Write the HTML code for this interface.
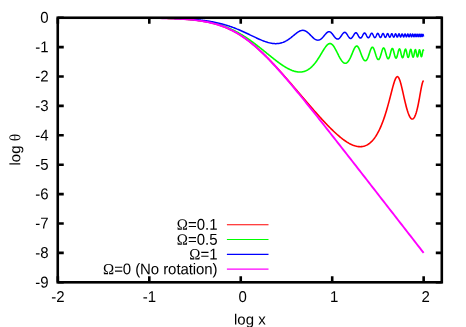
<!DOCTYPE html>
<html><head><meta charset="utf-8"><title>log theta vs log x</title>
<style>
html,body{margin:0;padding:0;background:#fff;}
body{width:466px;height:327px;overflow:hidden;}
svg{display:block;will-change:transform;}
svg text{font-family:"Liberation Sans",sans-serif;font-size:15px;fill:#000;}
svg .sy{font-family:"Liberation Serif",serif;}
</style></head><body>
<svg width="466" height="327" viewBox="0 0 466 327">
<rect x="0" y="0" width="466" height="327" fill="#fff"/>
<defs><clipPath id="pc"><rect x="57" y="17" width="386" height="266"/></clipPath></defs>
<g clip-path="url(#pc)">
<path d="M57.85 17.70L58.40 17.70L58.95 17.70L59.50 17.70L60.04 17.70L60.59 17.70L61.14 17.70L61.69 17.70L62.24 17.70L62.79 17.70L63.34 17.70L63.89 17.70L64.43 17.70L64.98 17.70L65.53 17.70L66.08 17.70L66.63 17.70L67.18 17.70L67.73 17.70L68.28 17.70L68.82 17.70L69.37 17.70L69.92 17.70L70.47 17.70L71.02 17.70L71.57 17.71L72.12 17.71L72.66 17.71L73.21 17.71L73.76 17.71L74.31 17.71L74.86 17.71L75.41 17.71L75.96 17.71L76.51 17.71L77.05 17.71L77.60 17.71L78.15 17.71L78.70 17.71L79.25 17.71L79.80 17.71L80.35 17.71L80.90 17.71L81.44 17.71L81.99 17.71L82.54 17.71L83.09 17.71L83.64 17.71L84.19 17.71L84.74 17.71L85.29 17.71L85.83 17.71L86.38 17.71L86.93 17.71L87.48 17.71L88.03 17.71L88.58 17.71L89.13 17.71L89.67 17.71L90.22 17.71L90.77 17.71L91.32 17.71L91.87 17.71L92.42 17.71L92.97 17.71L93.52 17.72L94.06 17.72L94.61 17.72L95.16 17.72L95.71 17.72L96.26 17.72L96.81 17.72L97.36 17.72L97.91 17.72L98.45 17.72L99.00 17.72L99.55 17.72L100.10 17.72L100.65 17.72L101.20 17.72L101.75 17.72L102.29 17.72L102.84 17.72L103.39 17.73L103.94 17.73L104.49 17.73L105.04 17.73L105.59 17.73L106.14 17.73L106.68 17.73L107.23 17.73L107.78 17.73L108.33 17.73L108.88 17.73L109.43 17.73L109.98 17.74L110.53 17.74L111.07 17.74L111.62 17.74L112.17 17.74L112.72 17.74L113.27 17.74L113.82 17.74L114.37 17.74L114.91 17.75L115.46 17.75L116.01 17.75L116.56 17.75L117.11 17.75L117.66 17.75L118.21 17.75L118.76 17.75L119.30 17.76L119.85 17.76L120.40 17.76L120.95 17.76L121.50 17.76L122.05 17.76L122.60 17.77L123.15 17.77L123.69 17.77L124.24 17.77L124.79 17.77L125.34 17.78L125.89 17.78L126.44 17.78L126.99 17.78L127.53 17.78L128.08 17.79L128.63 17.79L129.18 17.79L129.73 17.79L130.28 17.80L130.83 17.80L131.38 17.80L131.92 17.81L132.47 17.81L133.02 17.81L133.57 17.82L134.12 17.82L134.67 17.82L135.22 17.83L135.77 17.83L136.31 17.83L136.86 17.84L137.41 17.84L137.96 17.84L138.51 17.85L139.06 17.85L139.61 17.86L140.16 17.86L140.70 17.86L141.25 17.87L141.80 17.87L142.35 17.88L142.90 17.88L143.45 17.89L144.00 17.89L144.54 17.90L145.09 17.91L145.64 17.91L146.19 17.92L146.74 17.92L147.29 17.93L147.84 17.94L148.39 17.94L148.93 17.95L149.48 17.96L150.03 17.96L150.58 17.97L151.13 17.98L151.68 17.99L152.23 17.99L152.78 18.00L153.32 18.01L153.87 18.02L154.42 18.03L154.97 18.04L155.52 18.05L156.07 18.06L156.62 18.07L157.16 18.08L157.71 18.09L158.26 18.10L158.81 18.11L159.36 18.12L159.91 18.13L160.46 18.14L161.01 18.16L161.55 18.17L162.10 18.18L162.65 18.19L163.20 18.21L163.75 18.22L164.30 18.24L164.85 18.25L165.40 18.27L165.94 18.28L166.49 18.30L167.04 18.31L167.59 18.33L168.14 18.35L168.69 18.37L169.24 18.39L169.78 18.40L170.33 18.42L170.88 18.44L171.43 18.46L171.98 18.49L172.53 18.51L173.08 18.53L173.63 18.55L174.17 18.58L174.72 18.60L175.27 18.63L175.82 18.65L176.37 18.68L176.92 18.70L177.47 18.73L178.02 18.76L178.56 18.79L179.11 18.82L179.66 18.85L180.21 18.88L180.76 18.91L181.31 18.95L181.86 18.98L182.40 19.01L182.95 19.05L183.50 19.09L184.05 19.13L184.60 19.16L185.15 19.20L185.70 19.24L186.25 19.29L186.79 19.33L187.34 19.37L187.89 19.42L188.44 19.47L188.99 19.51L189.54 19.56L190.09 19.61L190.64 19.66L191.18 19.72L191.73 19.77L192.28 19.83L192.83 19.88L193.38 19.94L193.93 20.00L194.48 20.06L195.03 20.13L195.57 20.19L196.12 20.26L196.67 20.33L197.22 20.40L197.77 20.47L198.32 20.54L198.87 20.62L199.41 20.69L199.96 20.77L200.51 20.85L201.06 20.94L201.61 21.02L202.16 21.11L202.71 21.20L203.26 21.29L203.80 21.38L204.35 21.48L204.90 21.58L205.45 21.68L206.00 21.78L206.55 21.89L207.10 21.99L207.65 22.11L208.19 22.22L208.74 22.33L209.29 22.45L209.84 22.57L210.39 22.70L210.94 22.82L211.49 22.95L212.03 23.09L212.58 23.22L213.13 23.36L213.68 23.50L214.23 23.65L214.78 23.80L215.33 23.95L215.88 24.10L216.42 24.26L216.97 24.42L217.52 24.59L218.07 24.76L218.62 24.93L219.17 25.10L219.72 25.28L220.27 25.47L220.81 25.65L221.36 25.84L221.91 26.04L222.46 26.24L223.01 26.44L223.56 26.64L224.11 26.85L224.65 27.07L225.20 27.29L225.75 27.51L226.30 27.74L226.85 27.97L227.40 28.21L227.95 28.45L228.50 28.69L229.04 28.94L229.59 29.19L230.14 29.45L230.69 29.71L231.24 29.98L231.79 30.25L232.34 30.53L232.89 30.81L233.43 31.09L233.98 31.38L234.53 31.68L235.08 31.98L235.63 32.28L236.18 32.59L236.73 32.90L237.27 33.22L237.82 33.54L238.37 33.87L238.92 34.21L239.47 34.54L240.02 34.89L240.57 35.23L241.12 35.59L241.66 35.94L242.21 36.31L242.76 36.67L243.31 37.04L243.86 37.42L244.41 37.80L244.96 38.19L245.51 38.58L246.05 38.98L246.60 39.38L247.15 39.78L247.70 40.19L248.25 40.61L248.80 41.03L249.35 41.45L249.90 41.88L250.44 42.31L250.99 42.75L251.54 43.19L252.09 43.64L252.64 44.09L253.19 44.54L253.74 45.00L254.28 45.47L254.83 45.94L255.38 46.41L255.93 46.89L256.48 47.37L257.03 47.85L257.58 48.34L258.13 48.83L258.67 49.33L259.22 49.83L259.77 50.34L260.32 50.85L260.87 51.36L261.42 51.87L261.97 52.39L262.52 52.92L263.06 53.44L263.61 53.98L264.16 54.51L264.71 55.05L265.26 55.59L265.81 56.13L266.36 56.68L266.90 57.23L267.45 57.78L268.00 58.34L268.55 58.90L269.10 59.46L269.65 60.03L270.20 60.59L270.75 61.17L271.29 61.74L271.84 62.32L272.39 62.89L272.94 63.48L273.49 64.06L274.04 64.65L274.59 65.24L275.14 65.83L275.68 66.42L276.23 67.02L276.78 67.61L277.33 68.21L277.88 68.81L278.43 69.42L278.98 70.02L279.52 70.63L280.07 71.24L280.62 71.85L281.17 72.47L281.72 73.08L282.27 73.70L282.82 74.31L283.37 74.93L283.91 75.56L284.46 76.18L285.01 76.80L285.56 77.43L286.11 78.05L286.66 78.68L287.21 79.31L287.76 79.94L288.30 80.57L288.85 81.20L289.40 81.83L289.95 82.47L290.50 83.10L291.05 83.74L291.60 84.37L292.14 85.01L292.69 85.65L293.24 86.29L293.79 86.93L294.34 87.56L294.89 88.20L295.44 88.85L295.99 89.49L296.53 90.13L297.08 90.77L297.63 91.41L298.18 92.05L298.73 92.69L299.28 93.34L299.83 93.98L300.38 94.62L300.92 95.26L301.47 95.90L302.02 96.55L302.57 97.19L303.12 97.83L303.67 98.47L304.22 99.11L304.77 99.75L305.31 100.39L305.86 101.03L306.41 101.67L306.96 102.31L307.51 102.95L308.06 103.59L308.61 104.22L309.15 104.86L309.70 105.49L310.25 106.13L310.80 106.76L311.35 107.39L311.90 108.02L312.45 108.65L313.00 109.28L313.54 109.91L314.09 110.53L314.64 111.16L315.19 111.78L315.74 112.40L316.29 113.02L316.84 113.64L317.39 114.25L317.93 114.87L318.48 115.48L319.03 116.09L319.58 116.70L320.13 117.31L320.68 117.91L321.23 118.51L321.77 119.11L322.32 119.71L322.87 120.30L323.42 120.89L323.97 121.48L324.52 122.07L325.07 122.65L325.62 123.23L326.16 123.81L326.71 124.38L327.26 124.95L327.81 125.52L328.36 126.08L328.91 126.64L329.46 127.20L330.01 127.75L330.55 128.30L331.10 128.84L331.65 129.38L332.20 129.92L332.75 130.45L333.30 130.97L333.85 131.50L334.39 132.01L334.94 132.52L335.49 133.03L336.04 133.53L336.59 134.02L337.14 134.51L337.69 134.99L338.24 135.47L338.78 135.94L339.33 136.40L339.88 136.86L340.43 137.31L340.98 137.75L341.53 138.19L342.08 138.61L342.63 139.03L343.17 139.45L343.72 139.85L344.27 140.24L344.82 140.63L345.37 141.01L345.92 141.38L346.47 141.74L347.01 142.09L347.56 142.42L348.11 142.75L348.66 143.07L349.21 143.38L349.76 143.67L350.31 143.96L350.86 144.23L351.40 144.49L351.95 144.74L352.50 144.97L353.05 145.20L353.60 145.40L354.15 145.60L354.70 145.78L355.25 145.94L355.79 146.09L356.34 146.22L356.89 146.34L357.44 146.44L357.99 146.53L358.54 146.59L359.09 146.64L359.64 146.67L360.18 146.68L360.73 146.67L361.28 146.64L361.83 146.59L362.38 146.52L362.93 146.43L363.48 146.31L364.02 146.17L364.57 146.01L365.12 145.82L365.67 145.61L366.22 145.37L366.77 145.11L367.32 144.81L367.87 144.49L368.41 144.14L368.96 143.77L369.51 143.36L370.06 142.92L370.61 142.44L371.16 141.94L371.71 141.40L372.26 140.83L372.80 140.22L373.35 139.57L373.90 138.89L374.45 138.16L375.00 137.40L375.55 136.60L376.10 135.76L376.64 134.87L377.19 133.94L377.74 132.96L378.29 131.94L378.84 130.87L379.39 129.76L379.94 128.59L380.49 127.37L381.03 126.10L381.58 124.78L382.13 123.41L382.68 121.98L383.23 120.50L383.78 118.96L384.33 117.37L384.88 115.72L385.42 114.01L385.97 112.25L386.52 110.43L387.07 108.56L387.62 106.64L388.17 104.66L388.72 102.65L389.26 100.59L389.81 98.49L390.36 96.38L390.91 94.24L391.46 92.11L392.01 90.00L392.56 87.92L393.11 85.91L393.65 84.00L394.20 82.21L394.75 80.60L395.30 79.21L395.85 78.08L396.40 77.25L396.95 76.76L397.50 76.65L398.04 76.91L398.59 77.57L399.14 78.59L399.69 79.95L400.24 81.61L400.79 83.52L401.34 85.63L401.88 87.89L402.43 90.26L402.98 92.69L403.53 95.14L404.08 97.58L404.63 99.98L405.18 102.31L405.73 104.55L406.27 106.68L406.82 108.68L407.37 110.54L407.92 112.25L408.47 113.79L409.02 115.15L409.57 116.33L410.12 117.30L410.66 118.07L411.21 118.63L411.76 118.96L412.31 119.07L412.86 118.94L413.41 118.56L413.96 117.94L414.51 117.07L415.05 115.94L415.60 114.55L416.15 112.90L416.70 111.00L417.25 108.85L417.80 106.45L418.35 103.83L418.89 101.02L419.44 98.05L419.99 94.97L420.54 91.88L421.09 88.87L421.64 86.09L422.19 83.70L422.74 81.88L423.28 80.82L423.65 80.60" fill="none" stroke="#ff0000" stroke-width="1.6" stroke-linejoin="round" stroke-linecap="butt"/>
<path d="M57.85 17.70L58.40 17.70L58.95 17.70L59.50 17.70L60.04 17.70L60.59 17.70L61.14 17.70L61.69 17.70L62.24 17.70L62.79 17.70L63.34 17.70L63.89 17.70L64.43 17.70L64.98 17.70L65.53 17.70L66.08 17.70L66.63 17.70L67.18 17.70L67.73 17.70L68.28 17.70L68.82 17.70L69.37 17.70L69.92 17.70L70.47 17.70L71.02 17.70L71.57 17.70L72.12 17.70L72.66 17.71L73.21 17.71L73.76 17.71L74.31 17.71L74.86 17.71L75.41 17.71L75.96 17.71L76.51 17.71L77.05 17.71L77.60 17.71L78.15 17.71L78.70 17.71L79.25 17.71L79.80 17.71L80.35 17.71L80.90 17.71L81.44 17.71L81.99 17.71L82.54 17.71L83.09 17.71L83.64 17.71L84.19 17.71L84.74 17.71L85.29 17.71L85.83 17.71L86.38 17.71L86.93 17.71L87.48 17.71L88.03 17.71L88.58 17.71L89.13 17.71L89.67 17.71L90.22 17.71L90.77 17.71L91.32 17.71L91.87 17.71L92.42 17.71L92.97 17.71L93.52 17.71L94.06 17.71L94.61 17.72L95.16 17.72L95.71 17.72L96.26 17.72L96.81 17.72L97.36 17.72L97.91 17.72L98.45 17.72L99.00 17.72L99.55 17.72L100.10 17.72L100.65 17.72L101.20 17.72L101.75 17.72L102.29 17.72L102.84 17.72L103.39 17.72L103.94 17.72L104.49 17.73L105.04 17.73L105.59 17.73L106.14 17.73L106.68 17.73L107.23 17.73L107.78 17.73L108.33 17.73L108.88 17.73L109.43 17.73L109.98 17.73L110.53 17.73L111.07 17.73L111.62 17.74L112.17 17.74L112.72 17.74L113.27 17.74L113.82 17.74L114.37 17.74L114.91 17.74L115.46 17.74L116.01 17.74L116.56 17.75L117.11 17.75L117.66 17.75L118.21 17.75L118.76 17.75L119.30 17.75L119.85 17.75L120.40 17.76L120.95 17.76L121.50 17.76L122.05 17.76L122.60 17.76L123.15 17.76L123.69 17.77L124.24 17.77L124.79 17.77L125.34 17.77L125.89 17.77L126.44 17.78L126.99 17.78L127.53 17.78L128.08 17.78L128.63 17.78L129.18 17.79L129.73 17.79L130.28 17.79L130.83 17.79L131.38 17.80L131.92 17.80L132.47 17.80L133.02 17.81L133.57 17.81L134.12 17.81L134.67 17.81L135.22 17.82L135.77 17.82L136.31 17.82L136.86 17.83L137.41 17.83L137.96 17.83L138.51 17.84L139.06 17.84L139.61 17.85L140.16 17.85L140.70 17.85L141.25 17.86L141.80 17.86L142.35 17.87L142.90 17.87L143.45 17.88L144.00 17.88L144.54 17.89L145.09 17.89L145.64 17.90L146.19 17.90L146.74 17.91L147.29 17.92L147.84 17.92L148.39 17.93L148.93 17.93L149.48 17.94L150.03 17.95L150.58 17.95L151.13 17.96L151.68 17.97L152.23 17.98L152.78 17.98L153.32 17.99L153.87 18.00L154.42 18.01L154.97 18.02L155.52 18.03L156.07 18.03L156.62 18.04L157.16 18.05L157.71 18.06L158.26 18.07L158.81 18.08L159.36 18.09L159.91 18.10L160.46 18.12L161.01 18.13L161.55 18.14L162.10 18.15L162.65 18.16L163.20 18.18L163.75 18.19L164.30 18.20L164.85 18.22L165.40 18.23L165.94 18.25L166.49 18.26L167.04 18.28L167.59 18.29L168.14 18.31L168.69 18.33L169.24 18.34L169.78 18.36L170.33 18.38L170.88 18.40L171.43 18.42L171.98 18.44L172.53 18.46L173.08 18.48L173.63 18.50L174.17 18.52L174.72 18.55L175.27 18.57L175.82 18.59L176.37 18.62L176.92 18.64L177.47 18.67L178.02 18.70L178.56 18.72L179.11 18.75L179.66 18.78L180.21 18.81L180.76 18.84L181.31 18.87L181.86 18.90L182.40 18.94L182.95 18.97L183.50 19.00L184.05 19.04L184.60 19.08L185.15 19.11L185.70 19.15L186.25 19.19L186.79 19.23L187.34 19.27L187.89 19.32L188.44 19.36L188.99 19.40L189.54 19.45L190.09 19.50L190.64 19.55L191.18 19.60L191.73 19.65L192.28 19.70L192.83 19.75L193.38 19.81L193.93 19.86L194.48 19.92L195.03 19.98L195.57 20.04L196.12 20.10L196.67 20.17L197.22 20.23L197.77 20.30L198.32 20.37L198.87 20.44L199.41 20.51L199.96 20.59L200.51 20.66L201.06 20.74L201.61 20.82L202.16 20.90L202.71 20.99L203.26 21.07L203.80 21.16L204.35 21.25L204.90 21.34L205.45 21.44L206.00 21.53L206.55 21.63L207.10 21.73L207.65 21.84L208.19 21.94L208.74 22.05L209.29 22.16L209.84 22.28L210.39 22.39L210.94 22.51L211.49 22.64L212.03 22.76L212.58 22.89L213.13 23.02L213.68 23.15L214.23 23.29L214.78 23.42L215.33 23.57L215.88 23.71L216.42 23.86L216.97 24.01L217.52 24.17L218.07 24.32L218.62 24.49L219.17 24.65L219.72 24.82L220.27 24.99L220.81 25.16L221.36 25.34L221.91 25.52L222.46 25.71L223.01 25.90L223.56 26.09L224.11 26.29L224.65 26.49L225.20 26.69L225.75 26.90L226.30 27.11L226.85 27.33L227.40 27.55L227.95 27.77L228.50 28.00L229.04 28.23L229.59 28.47L230.14 28.71L230.69 28.95L231.24 29.20L231.79 29.45L232.34 29.71L232.89 29.97L233.43 30.24L233.98 30.51L234.53 30.78L235.08 31.06L235.63 31.34L236.18 31.63L236.73 31.92L237.27 32.21L237.82 32.51L238.37 32.81L238.92 33.12L239.47 33.43L240.02 33.75L240.57 34.07L241.12 34.39L241.66 34.72L242.21 35.05L242.76 35.39L243.31 35.73L243.86 36.07L244.41 36.42L244.96 36.77L245.51 37.13L246.05 37.49L246.60 37.85L247.15 38.22L247.70 38.59L248.25 38.97L248.80 39.35L249.35 39.73L249.90 40.11L250.44 40.50L250.99 40.89L251.54 41.29L252.09 41.69L252.64 42.09L253.19 42.50L253.74 42.90L254.28 43.31L254.83 43.73L255.38 44.14L255.93 44.56L256.48 44.99L257.03 45.41L257.58 45.83L258.13 46.26L258.67 46.69L259.22 47.13L259.77 47.56L260.32 48.00L260.87 48.43L261.42 48.87L261.97 49.31L262.52 49.75L263.06 50.20L263.61 50.64L264.16 51.08L264.71 51.53L265.26 51.97L265.81 52.42L266.36 52.87L266.90 53.31L267.45 53.76L268.00 54.20L268.55 54.65L269.10 55.10L269.65 55.54L270.20 55.98L270.75 56.43L271.29 56.87L271.84 57.31L272.39 57.74L272.94 58.18L273.49 58.61L274.04 59.05L274.59 59.48L275.14 59.90L275.68 60.33L276.23 60.75L276.78 61.16L277.33 61.58L277.88 61.99L278.43 62.40L278.98 62.80L279.52 63.20L280.07 63.59L280.62 63.98L281.17 64.36L281.72 64.74L282.27 65.11L282.82 65.47L283.37 65.83L283.91 66.19L284.46 66.53L285.01 66.87L285.56 67.20L286.11 67.53L286.66 67.84L287.21 68.15L287.76 68.45L288.30 68.74L288.85 69.02L289.40 69.29L289.95 69.55L290.50 69.79L291.05 70.03L291.60 70.26L292.14 70.48L292.69 70.68L293.24 70.87L293.79 71.05L294.34 71.21L294.89 71.36L295.44 71.50L295.99 71.62L296.53 71.73L297.08 71.82L297.63 71.90L298.18 71.96L298.73 72.00L299.28 72.02L299.83 72.03L300.38 72.02L300.92 71.99L301.47 71.94L302.02 71.87L302.57 71.78L303.12 71.67L303.67 71.53L304.22 71.38L304.77 71.20L305.31 71.00L305.86 70.78L306.41 70.53L306.96 70.25L307.51 69.95L308.06 69.63L308.61 69.28L309.15 68.90L309.70 68.49L310.25 68.06L310.80 67.60L311.35 67.11L311.90 66.60L312.45 66.05L313.00 65.48L313.54 64.87L314.09 64.24L314.64 63.58L315.19 62.90L315.74 62.18L316.29 61.44L316.84 60.67L317.39 59.87L317.93 59.06L318.48 58.22L319.03 57.36L319.58 56.48L320.13 55.58L320.68 54.68L321.23 53.77L321.77 52.85L322.32 51.94L322.87 51.03L323.42 50.14L323.97 49.26L324.52 48.42L325.07 47.61L325.62 46.85L326.16 46.14L326.71 45.50L327.26 44.93L327.81 44.45L328.36 44.06L328.91 43.78L329.46 43.60L330.01 43.55L330.55 43.61L331.10 43.80L331.65 44.12L332.20 44.55L332.75 45.10L333.30 45.76L333.85 46.51L334.39 47.36L334.94 48.29L335.49 49.27L336.04 50.31L336.59 51.39L337.14 52.49L337.69 53.59L338.24 54.69L338.78 55.77L339.33 56.81L339.88 57.82L340.43 58.77L340.98 59.65L341.53 60.45L342.08 61.17L342.63 61.80L343.17 62.33L343.72 62.74L344.27 63.04L344.82 63.22L345.37 63.28L345.92 63.20L346.47 62.99L347.01 62.65L347.56 62.17L348.11 61.56L348.66 60.81L349.21 59.94L349.76 58.96L350.31 57.86L350.86 56.67L351.40 55.40L351.95 54.08L352.50 52.74L353.05 51.40L353.60 50.12L354.15 48.93L354.70 47.89L355.25 47.03L355.79 46.41L356.34 46.07L356.89 46.02L357.44 46.29L357.99 46.86L358.54 47.71L359.09 48.80L359.64 50.08L360.18 51.49L360.73 52.97L361.28 54.45L361.83 55.88L362.38 57.20L362.93 58.38L363.48 59.35L364.02 60.10L364.57 60.60L365.12 60.82L365.67 60.75L366.22 60.39L366.77 59.73L367.32 58.79L367.87 57.60L368.41 56.19L368.96 54.62L369.51 52.96L370.06 51.31L370.61 49.79L371.16 48.52L371.71 47.62L372.26 47.20L372.80 47.30L373.35 47.95L373.90 49.07L374.45 50.56L375.00 52.27L375.55 54.05L376.10 55.76L376.64 57.26L377.19 58.45L377.74 59.23L378.29 59.56L378.84 59.40L379.39 58.74L379.94 57.62L380.49 56.10L381.03 54.29L381.58 52.36L382.13 50.53L382.68 49.02L383.23 48.10L383.78 47.93L384.33 48.56L384.88 49.90L385.42 51.73L385.97 53.76L386.52 55.70L387.07 57.30L387.62 58.36L388.17 58.76L388.72 58.44L389.26 57.40L389.81 55.76L390.36 53.71L390.91 51.56L391.46 49.72L392.01 48.59L392.56 48.49L393.11 49.48L393.65 51.28L394.19 53.46L394.72 55.54L395.24 57.16L395.75 58.06L396.26 58.12L396.76 57.35L397.26 55.87L397.75 53.92L398.23 51.83L398.71 50.04L399.18 48.96L399.65 48.87L400.11 49.76L400.57 51.41L401.02 53.40L401.46 55.32L401.91 56.81L402.34 57.64L402.77 57.70L403.20 56.99L403.62 55.61L404.04 53.80L404.45 51.87L404.86 50.23L405.26 49.24L405.67 49.16L406.06 49.99L406.45 51.51L406.84 53.36L407.23 55.14L407.61 56.54L407.99 57.31L408.36 57.37L408.73 56.70L409.10 55.41L409.46 53.71L409.82 51.91L410.18 50.39L410.53 49.47L410.88 49.40L411.23 50.18L411.58 51.60L411.92 53.33L412.26 55.00L412.59 56.31L412.92 57.05L413.26 57.10L413.58 56.46L413.91 55.24L414.23 53.64L414.55 51.95L414.87 50.52L415.18 49.67L415.49 49.60L415.80 50.33L416.11 51.67L416.41 53.30L416.72 54.89L417.02 56.13L417.31 56.83L417.61 56.87L417.90 56.27L418.19 55.11L418.48 53.59L418.77 51.99L419.06 50.63L419.34 49.83L419.62 49.77L419.90 50.46L420.18 51.73L420.45 53.29L420.72 54.79L421.00 55.98L421.27 56.64L421.53 56.68L421.80 56.10L422.06 54.99L422.33 53.54L422.59 52.02L422.85 50.73L423.10 49.97L423.36 49.92L423.61 50.58L423.65 50.73" fill="none" stroke="#00ff00" stroke-width="1.6" stroke-linejoin="round" stroke-linecap="butt"/>
<path d="M57.85 17.70L58.40 17.70L58.95 17.70L59.50 17.70L60.04 17.70L60.59 17.70L61.14 17.70L61.69 17.70L62.24 17.70L62.79 17.70L63.34 17.70L63.89 17.70L64.43 17.70L64.98 17.70L65.53 17.70L66.08 17.70L66.63 17.70L67.18 17.70L67.73 17.70L68.28 17.70L68.82 17.70L69.37 17.70L69.92 17.70L70.47 17.70L71.02 17.70L71.57 17.70L72.12 17.70L72.66 17.70L73.21 17.70L73.76 17.70L74.31 17.70L74.86 17.70L75.41 17.70L75.96 17.70L76.51 17.70L77.05 17.71L77.60 17.71L78.15 17.71L78.70 17.71L79.25 17.71L79.80 17.71L80.35 17.71L80.90 17.71L81.44 17.71L81.99 17.71L82.54 17.71L83.09 17.71L83.64 17.71L84.19 17.71L84.74 17.71L85.29 17.71L85.83 17.71L86.38 17.71L86.93 17.71L87.48 17.71L88.03 17.71L88.58 17.71L89.13 17.71L89.67 17.71L90.22 17.71L90.77 17.71L91.32 17.71L91.87 17.71L92.42 17.71L92.97 17.71L93.52 17.71L94.06 17.71L94.61 17.71L95.16 17.71L95.71 17.71L96.26 17.71L96.81 17.71L97.36 17.71L97.91 17.71L98.45 17.71L99.00 17.72L99.55 17.72L100.10 17.72L100.65 17.72L101.20 17.72L101.75 17.72L102.29 17.72L102.84 17.72L103.39 17.72L103.94 17.72L104.49 17.72L105.04 17.72L105.59 17.72L106.14 17.72L106.68 17.72L107.23 17.72L107.78 17.72L108.33 17.72L108.88 17.72L109.43 17.73L109.98 17.73L110.53 17.73L111.07 17.73L111.62 17.73L112.17 17.73L112.72 17.73L113.27 17.73L113.82 17.73L114.37 17.73L114.91 17.73L115.46 17.73L116.01 17.74L116.56 17.74L117.11 17.74L117.66 17.74L118.21 17.74L118.76 17.74L119.30 17.74L119.85 17.74L120.40 17.74L120.95 17.75L121.50 17.75L122.05 17.75L122.60 17.75L123.15 17.75L123.69 17.75L124.24 17.75L124.79 17.76L125.34 17.76L125.89 17.76L126.44 17.76L126.99 17.76L127.53 17.76L128.08 17.77L128.63 17.77L129.18 17.77L129.73 17.77L130.28 17.77L130.83 17.78L131.38 17.78L131.92 17.78L132.47 17.78L133.02 17.78L133.57 17.79L134.12 17.79L134.67 17.79L135.22 17.79L135.77 17.80L136.31 17.80L136.86 17.80L137.41 17.80L137.96 17.81L138.51 17.81L139.06 17.81L139.61 17.82L140.16 17.82L140.70 17.82L141.25 17.83L141.80 17.83L142.35 17.83L142.90 17.84L143.45 17.84L144.00 17.85L144.54 17.85L145.09 17.85L145.64 17.86L146.19 17.86L146.74 17.87L147.29 17.87L147.84 17.88L148.39 17.88L148.93 17.89L149.48 17.89L150.03 17.90L150.58 17.90L151.13 17.91L151.68 17.91L152.23 17.92L152.78 17.93L153.32 17.93L153.87 17.94L154.42 17.95L154.97 17.95L155.52 17.96L156.07 17.97L156.62 17.97L157.16 17.98L157.71 17.99L158.26 18.00L158.81 18.01L159.36 18.02L159.91 18.02L160.46 18.03L161.01 18.04L161.55 18.05L162.10 18.06L162.65 18.07L163.20 18.08L163.75 18.09L164.30 18.10L164.85 18.11L165.40 18.13L165.94 18.14L166.49 18.15L167.04 18.16L167.59 18.18L168.14 18.19L168.69 18.20L169.24 18.22L169.78 18.23L170.33 18.24L170.88 18.26L171.43 18.27L171.98 18.29L172.53 18.31L173.08 18.32L173.63 18.34L174.17 18.36L174.72 18.38L175.27 18.40L175.82 18.41L176.37 18.43L176.92 18.45L177.47 18.48L178.02 18.50L178.56 18.52L179.11 18.54L179.66 18.56L180.21 18.59L180.76 18.61L181.31 18.64L181.86 18.66L182.40 18.69L182.95 18.72L183.50 18.74L184.05 18.77L184.60 18.80L185.15 18.83L185.70 18.86L186.25 18.89L186.79 18.93L187.34 18.96L187.89 18.99L188.44 19.03L188.99 19.06L189.54 19.10L190.09 19.14L190.64 19.18L191.18 19.22L191.73 19.26L192.28 19.30L192.83 19.34L193.38 19.39L193.93 19.43L194.48 19.48L195.03 19.52L195.57 19.57L196.12 19.62L196.67 19.67L197.22 19.73L197.77 19.78L198.32 19.84L198.87 19.89L199.41 19.95L199.96 20.01L200.51 20.07L201.06 20.13L201.61 20.20L202.16 20.26L202.71 20.33L203.26 20.40L203.80 20.47L204.35 20.54L204.90 20.61L205.45 20.69L206.00 20.76L206.55 20.84L207.10 20.92L207.65 21.01L208.19 21.09L208.74 21.18L209.29 21.27L209.84 21.36L210.39 21.45L210.94 21.54L211.49 21.64L212.03 21.74L212.58 21.84L213.13 21.94L213.68 22.05L214.23 22.16L214.78 22.27L215.33 22.38L215.88 22.50L216.42 22.61L216.97 22.73L217.52 22.86L218.07 22.98L218.62 23.11L219.17 23.24L219.72 23.37L220.27 23.51L220.81 23.65L221.36 23.79L221.91 23.93L222.46 24.08L223.01 24.23L223.56 24.38L224.11 24.53L224.65 24.69L225.20 24.85L225.75 25.01L226.30 25.18L226.85 25.35L227.40 25.52L227.95 25.69L228.50 25.87L229.04 26.05L229.59 26.24L230.14 26.42L230.69 26.61L231.24 26.80L231.79 27.00L232.34 27.20L232.89 27.40L233.43 27.60L233.98 27.81L234.53 28.02L235.08 28.23L235.63 28.45L236.18 28.66L236.73 28.88L237.27 29.11L237.82 29.33L238.37 29.56L238.92 29.79L239.47 30.02L240.02 30.26L240.57 30.50L241.12 30.74L241.66 30.98L242.21 31.22L242.76 31.47L243.31 31.72L243.86 31.97L244.41 32.22L244.96 32.48L245.51 32.73L246.05 32.99L246.60 33.25L247.15 33.50L247.70 33.76L248.25 34.03L248.80 34.29L249.35 34.55L249.90 34.81L250.44 35.08L250.99 35.34L251.54 35.60L252.09 35.87L252.64 36.13L253.19 36.39L253.74 36.66L254.28 36.92L254.83 37.18L255.38 37.44L255.93 37.69L256.48 37.95L257.03 38.20L257.58 38.46L258.13 38.71L258.67 38.95L259.22 39.20L259.77 39.44L260.32 39.67L260.87 39.91L261.42 40.14L261.97 40.36L262.52 40.58L263.06 40.80L263.61 41.01L264.16 41.21L264.71 41.41L265.26 41.60L265.81 41.79L266.36 41.97L266.90 42.14L267.45 42.31L268.00 42.47L268.55 42.61L269.10 42.76L269.65 42.89L270.20 43.01L270.75 43.12L271.29 43.23L271.84 43.32L272.39 43.40L272.94 43.47L273.49 43.53L274.04 43.58L274.59 43.61L275.14 43.63L275.68 43.64L276.23 43.64L276.78 43.62L277.33 43.59L277.88 43.54L278.43 43.48L278.98 43.40L279.52 43.31L280.07 43.20L280.62 43.07L281.17 42.93L281.72 42.77L282.27 42.60L282.82 42.41L283.37 42.20L283.91 41.97L284.46 41.73L285.01 41.47L285.56 41.19L286.11 40.90L286.66 40.59L287.21 40.26L287.76 39.92L288.30 39.56L288.85 39.18L289.40 38.79L289.95 38.39L290.50 37.98L291.05 37.56L291.60 37.12L292.14 36.68L292.69 36.23L293.24 35.78L293.79 35.33L294.34 34.87L294.89 34.42L295.44 33.98L295.99 33.54L296.53 33.12L297.08 32.71L297.63 32.32L298.18 31.96L298.73 31.62L299.28 31.32L299.83 31.04L300.38 30.81L300.92 30.62L301.47 30.48L302.02 30.38L302.57 30.34L303.12 30.35L303.67 30.41L304.22 30.53L304.77 30.70L305.31 30.93L305.86 31.21L306.41 31.55L306.96 31.92L307.51 32.35L308.06 32.80L308.61 33.30L309.15 33.81L309.70 34.35L310.25 34.90L310.80 35.46L311.35 36.02L311.90 36.57L312.45 37.10L313.00 37.61L313.54 38.10L314.09 38.54L314.64 38.94L315.19 39.30L315.74 39.60L316.29 39.84L316.84 40.01L317.39 40.12L317.93 40.16L318.48 40.12L319.03 40.01L319.58 39.82L320.13 39.56L320.68 39.22L321.23 38.81L321.77 38.34L322.32 37.80L322.87 37.22L323.42 36.60L323.97 35.95L324.52 35.28L325.07 34.62L325.62 33.98L326.16 33.38L326.71 32.84L327.26 32.39L327.81 32.03L328.36 31.80L328.91 31.69L329.46 31.72L330.01 31.90L330.55 32.21L331.10 32.65L331.65 33.20L332.20 33.83L332.75 34.53L333.30 35.27L333.85 36.01L334.39 36.73L334.94 37.39L335.49 37.97L336.04 38.45L336.59 38.80L337.14 39.02L337.69 39.07L338.24 38.97L338.78 38.71L339.33 38.29L339.88 37.73L340.43 37.05L340.98 36.29L341.53 35.47L342.08 34.65L342.63 33.88L343.17 33.21L343.72 32.70L344.27 32.40L344.82 32.33L345.37 32.51L345.92 32.92L346.47 33.55L347.01 34.33L347.56 35.20L348.11 36.08L348.66 36.91L349.21 37.62L349.76 38.14L350.31 38.44L350.86 38.48L351.40 38.26L351.95 37.78L352.50 37.08L353.05 36.21L353.60 35.26L354.15 34.33L354.70 33.53L355.25 32.96L355.79 32.72L356.34 32.84L356.89 33.33L357.44 34.11L357.99 35.07L358.54 36.08L359.09 37.00L359.64 37.69L360.18 38.07L360.73 38.08L361.28 37.70L361.83 36.98L362.38 36.02L362.93 34.95L363.48 33.96L364.02 33.25L364.57 32.98L365.12 33.22L365.67 33.92L366.21 34.93L366.75 36.02L367.28 36.98L367.80 37.63L368.31 37.86L368.82 37.64L369.32 37.02L369.82 36.09L370.30 35.05L370.79 34.09L371.26 33.42L371.74 33.18L372.20 33.43L372.66 34.10L373.12 35.03L373.57 36.03L374.01 36.89L374.45 37.47L374.89 37.66L375.32 37.43L375.74 36.83L376.16 35.97L376.58 35.01L376.99 34.13L377.40 33.54L377.80 33.34L378.20 33.59L378.60 34.23L378.99 35.10L379.38 36.03L379.76 36.82L380.14 37.34L380.52 37.50L380.90 37.27L381.26 36.69L381.63 35.88L381.99 34.98L382.35 34.17L382.71 33.63L383.06 33.47L383.41 33.73L383.76 34.33L384.11 35.16L384.45 36.02L384.78 36.76L385.12 37.24L385.45 37.37L385.78 37.14L386.11 36.58L386.43 35.81L386.76 34.96L387.07 34.21L387.39 33.71L387.71 33.58L388.02 33.84L388.33 34.42L388.63 35.20L388.94 36.02L389.24 36.71L389.54 37.15L389.84 37.26L390.13 37.02L390.42 36.49L390.72 35.75L391.00 34.94L391.29 34.24L391.58 33.79L391.86 33.67L392.14 33.93L392.42 34.49L392.69 35.24L392.97 36.01L393.24 36.66L393.51 37.07L393.78 37.16L394.05 36.93L394.32 36.41L394.58 35.70L394.84 34.93L395.10 34.27L395.36 33.85L395.62 33.75L395.87 34.01L396.13 34.55L396.38 35.27L396.63 36.01L396.88 36.62L397.12 37.00L397.37 37.08L397.61 36.85L397.86 36.34L398.10 35.66L398.34 34.93L398.58 34.30L398.81 33.90L399.05 33.83L399.28 34.08L399.52 34.61L399.75 35.30L399.98 36.00L400.21 36.59L400.43 36.94L400.66 37.01L400.89 36.77L401.11 36.28L401.33 35.62L401.55 34.92L401.77 34.33L401.99 33.95L402.21 33.89L402.42 34.14L402.64 34.66L402.85 35.32L403.07 36.00L403.28 36.56L403.49 36.89L403.70 36.95L403.91 36.71L404.11 36.23L404.32 35.59L404.52 34.92L404.73 34.35L404.93 34.00L405.13 33.94L405.33 34.20L405.53 34.70L405.73 35.34L405.93 35.99L406.13 36.53L406.32 36.84L406.52 36.89L406.71 36.65L406.91 36.18L407.10 35.56L407.29 34.92L407.48 34.37L407.67 34.04L407.86 34.00L408.04 34.25L408.23 34.73L408.42 35.36L408.60 35.99L408.79 36.50L408.97 36.80L409.15 36.84L409.33 36.60L409.51 36.14L409.69 35.54L409.87 34.92L410.05 34.39L410.23 34.08L410.41 34.04L410.58 34.29L410.76 34.77L410.93 35.37L411.11 35.98L411.28 36.47L411.45 36.76L411.62 36.79L411.79 36.56L411.96 36.11L412.13 35.52L412.30 34.92L412.47 34.41L412.63 34.11L412.80 34.08L412.97 34.33L413.13 34.80L413.30 35.39L413.46 35.97L413.62 36.45L413.78 36.72L413.95 36.75L414.11 36.52L414.27 36.07L414.43 35.50L414.59 34.92L414.74 34.43L414.90 34.14L415.06 34.12L415.22 34.37L415.37 34.82L415.53 35.40L415.68 35.97L415.83 36.43L415.99 36.69L416.14 36.71L416.29 36.48L416.45 36.04L416.60 35.49L416.75 34.92L416.90 34.45L417.05 34.17L417.20 34.16L417.34 34.40L417.49 34.85L417.64 35.41L417.78 35.96L417.93 36.41L418.08 36.66L418.22 36.67L418.37 36.44L418.51 36.02L418.65 35.47L418.80 34.92L418.94 34.46L419.08 34.20L419.22 34.19L419.36 34.43L419.50 34.87L419.64 35.42L419.78 35.96L419.92 36.39L420.06 36.63L420.20 36.64L420.34 36.41L420.47 35.99L420.61 35.46L420.75 34.92L420.88 34.48L421.02 34.23L421.15 34.22L421.28 34.46L421.42 34.89L421.55 35.43L421.68 35.95L421.82 36.37L421.95 36.60L422.08 36.60L422.21 36.38L422.34 35.97L422.47 35.45L422.60 34.92L422.73 34.49L422.86 34.25L422.99 34.25L423.12 34.49L423.25 34.91L423.37 35.43L423.50 35.95L423.63 36.35L423.65 36.41" fill="none" stroke="#0000ff" stroke-width="1.5" stroke-linejoin="round" stroke-linecap="butt"/>
<path d="M57.85 17.70L59.68 17.70L61.51 17.70L63.34 17.70L65.17 17.70L67.00 17.70L68.82 17.70L70.65 17.70L72.48 17.71L74.31 17.71L76.14 17.71L77.97 17.71L79.80 17.71L81.63 17.71L83.46 17.71L85.29 17.71L87.11 17.71L88.94 17.71L90.77 17.71L92.60 17.71L94.43 17.72L96.26 17.72L98.09 17.72L99.92 17.72L101.75 17.72L103.58 17.73L105.40 17.73L107.23 17.73L109.06 17.73L110.89 17.74L112.72 17.74L114.55 17.74L116.38 17.75L118.21 17.75L120.04 17.76L121.87 17.76L123.69 17.77L125.52 17.78L127.35 17.78L129.18 17.79L131.01 17.80L132.84 17.81L134.67 17.82L136.50 17.83L138.33 17.85L140.16 17.86L141.98 17.88L143.81 17.89L145.64 17.91L147.47 17.93L149.30 17.95L151.13 17.98L152.96 18.01L154.79 18.03L156.62 18.07L158.45 18.10L160.27 18.14L162.10 18.18L163.93 18.23L165.76 18.28L167.59 18.33L169.42 18.39L171.25 18.46L173.08 18.53L174.91 18.61L176.74 18.70L178.56 18.79L180.39 18.89L182.22 19.01L184.05 19.13L185.88 19.26L187.71 19.41L189.54 19.57L191.37 19.74L193.20 19.93L195.03 20.13L196.85 20.36L198.68 20.60L200.51 20.86L202.34 21.15L204.17 21.46L206.00 21.79L207.83 22.15L209.66 22.55L211.49 22.97L213.32 23.42L215.14 23.91L216.97 24.44L218.80 25.00L220.63 25.61L222.46 26.26L224.29 26.95L226.12 27.69L227.95 28.47L229.78 29.31L231.61 30.19L233.43 31.13L235.26 32.12L237.09 33.16L238.92 34.25L240.75 35.40L242.58 36.60L244.41 37.86L246.24 39.17L248.07 40.54L249.90 41.95L251.72 43.42L253.55 44.94L255.38 46.50L257.21 48.12L259.04 49.78L260.87 51.48L262.70 53.23L264.53 55.02L266.36 56.84L268.19 58.70L270.01 60.60L271.84 62.53L273.67 64.49L275.50 66.48L277.33 68.50L279.16 70.54L280.99 72.61L282.82 74.70L284.65 76.80L286.48 78.93L288.30 81.08L290.13 83.24L291.96 85.42L293.79 87.62L295.62 89.82L297.45 92.04L299.28 94.27L301.11 96.51L302.94 98.76L304.77 101.02L306.59 103.28L308.42 105.56L310.25 107.84L312.08 110.12L313.91 112.41L315.74 114.71L317.57 117.01L319.40 119.32L321.23 121.63L323.06 123.94L324.88 126.26L326.71 128.58L328.54 130.90L330.37 133.23L332.20 135.55L334.03 137.88L335.86 140.22L337.69 142.55L339.52 144.88L341.35 147.22L343.17 149.56L345.00 151.90L346.83 154.24L348.66 156.58L350.49 158.92L352.32 161.26L354.15 163.61L355.98 165.95L357.81 168.30L359.64 170.64L361.46 172.99L363.29 175.34L365.12 177.68L366.95 180.03L368.78 182.38L370.61 184.73L372.44 187.08L374.27 189.43L376.10 191.78L377.93 194.13L379.75 196.48L381.58 198.83L383.41 201.18L385.24 203.53L387.07 205.88L388.90 208.23L390.73 210.58L392.56 212.93L394.39 215.28L396.22 217.63L398.04 219.98L399.87 222.33L401.70 224.68L403.53 227.04L405.36 229.39L407.19 231.74L409.02 234.09L410.85 236.44L412.68 238.79L414.51 241.14L416.33 243.50L418.16 245.85L419.99 248.20L421.82 250.55L423.65 252.90" fill="none" stroke="#ff00ff" stroke-width="1.9" stroke-linejoin="round" stroke-linecap="butt"/>
</g>
<line x1="226.9" y1="224.7" x2="268.5" y2="224.7" stroke="#ff0000" stroke-width="1.15"/>
<text transform="translate(217.50 229.85) rotate(0.03) scale(1 1.05)" text-anchor="end"><tspan class="sy">Ω</tspan>=0.1</text>
<line x1="226.9" y1="239.5" x2="268.5" y2="239.5" stroke="#00ff00" stroke-width="1.15"/>
<text transform="translate(217.50 244.65) rotate(0.03) scale(1 1.05)" text-anchor="end"><tspan class="sy">Ω</tspan>=0.5</text>
<line x1="226.9" y1="254.4" x2="268.5" y2="254.4" stroke="#0000ff" stroke-width="1.15"/>
<text transform="translate(217.50 259.55) rotate(0.03) scale(1 1.05)" text-anchor="end"><tspan class="sy">Ω</tspan>=1</text>
<line x1="226.9" y1="269.1" x2="268.5" y2="269.1" stroke="#ff00ff" stroke-width="1.15"/>
<text transform="translate(217.50 274.25) rotate(0.03) scale(1 1.03)" text-anchor="end" letter-spacing="-0.08"><tspan class="sy">Ω</tspan>=0 (No rotation)</text>
<g stroke="#000" stroke-width="2.6" fill="none">
<rect x="57.75" y="17.75" width="384.05" height="264.55"/>
<path d="M57.85 282.30V276.30M57.85 17.75V23.75"/>
<path d="M149.30 282.30V276.30M149.30 17.75V23.75"/>
<path d="M240.75 282.30V276.30M240.75 17.75V23.75"/>
<path d="M332.20 282.30V276.30M332.20 17.75V23.75"/>
<path d="M423.65 282.30V276.30M423.65 17.75V23.75"/>
<path d="M57.75 17.70H63.75M441.80 17.70H435.80"/>
<path d="M57.75 47.10H63.75M441.80 47.10H435.80"/>
<path d="M57.75 76.50H63.75M441.80 76.50H435.80"/>
<path d="M57.75 105.90H63.75M441.80 105.90H435.80"/>
<path d="M57.75 135.30H63.75M441.80 135.30H435.80"/>
<path d="M57.75 164.70H63.75M441.80 164.70H435.80"/>
<path d="M57.75 194.10H63.75M441.80 194.10H435.80"/>
<path d="M57.75 223.50H63.75M441.80 223.50H435.80"/>
<path d="M57.75 252.90H63.75M441.80 252.90H435.80"/>
<path d="M57.75 282.30H63.75M441.80 282.30H435.80"/>
</g>
<text transform="translate(57.95 302.00) rotate(0.03) scale(1 1.05)" text-anchor="middle">-2</text>
<text transform="translate(149.40 302.00) rotate(0.03) scale(1 1.05)" text-anchor="middle">-1</text>
<text transform="translate(242.75 302.00) rotate(0.03) scale(1 1.05)" text-anchor="middle">0</text>
<text transform="translate(334.20 302.00) rotate(0.03) scale(1 1.05)" text-anchor="middle">1</text>
<text transform="translate(425.65 302.00) rotate(0.03) scale(1 1.05)" text-anchor="middle">2</text>
<text transform="translate(48.70 22.80) rotate(0.03) scale(1 1.05)" text-anchor="end">0</text>
<text transform="translate(48.70 52.20) rotate(0.03) scale(1 1.05)" text-anchor="end">-1</text>
<text transform="translate(48.70 81.60) rotate(0.03) scale(1 1.05)" text-anchor="end">-2</text>
<text transform="translate(48.70 111.00) rotate(0.03) scale(1 1.05)" text-anchor="end">-3</text>
<text transform="translate(48.70 140.40) rotate(0.03) scale(1 1.05)" text-anchor="end">-4</text>
<text transform="translate(48.70 169.80) rotate(0.03) scale(1 1.05)" text-anchor="end">-5</text>
<text transform="translate(48.70 199.20) rotate(0.03) scale(1 1.05)" text-anchor="end">-6</text>
<text transform="translate(48.70 228.60) rotate(0.03) scale(1 1.05)" text-anchor="end">-7</text>
<text transform="translate(48.70 258.00) rotate(0.03) scale(1 1.05)" text-anchor="end">-8</text>
<text transform="translate(48.70 287.40) rotate(0.03) scale(1 1.05)" text-anchor="end">-9</text>
<text transform="translate(249.80 324.60) rotate(0.03) scale(1 1.0)" text-anchor="middle">log x</text>
<text transform="translate(20.20 149.70) rotate(-90.03) scale(1 1.0)" text-anchor="middle">log <tspan class="sy" font-size="15.6">θ</tspan></text>
</svg>
</body></html>
